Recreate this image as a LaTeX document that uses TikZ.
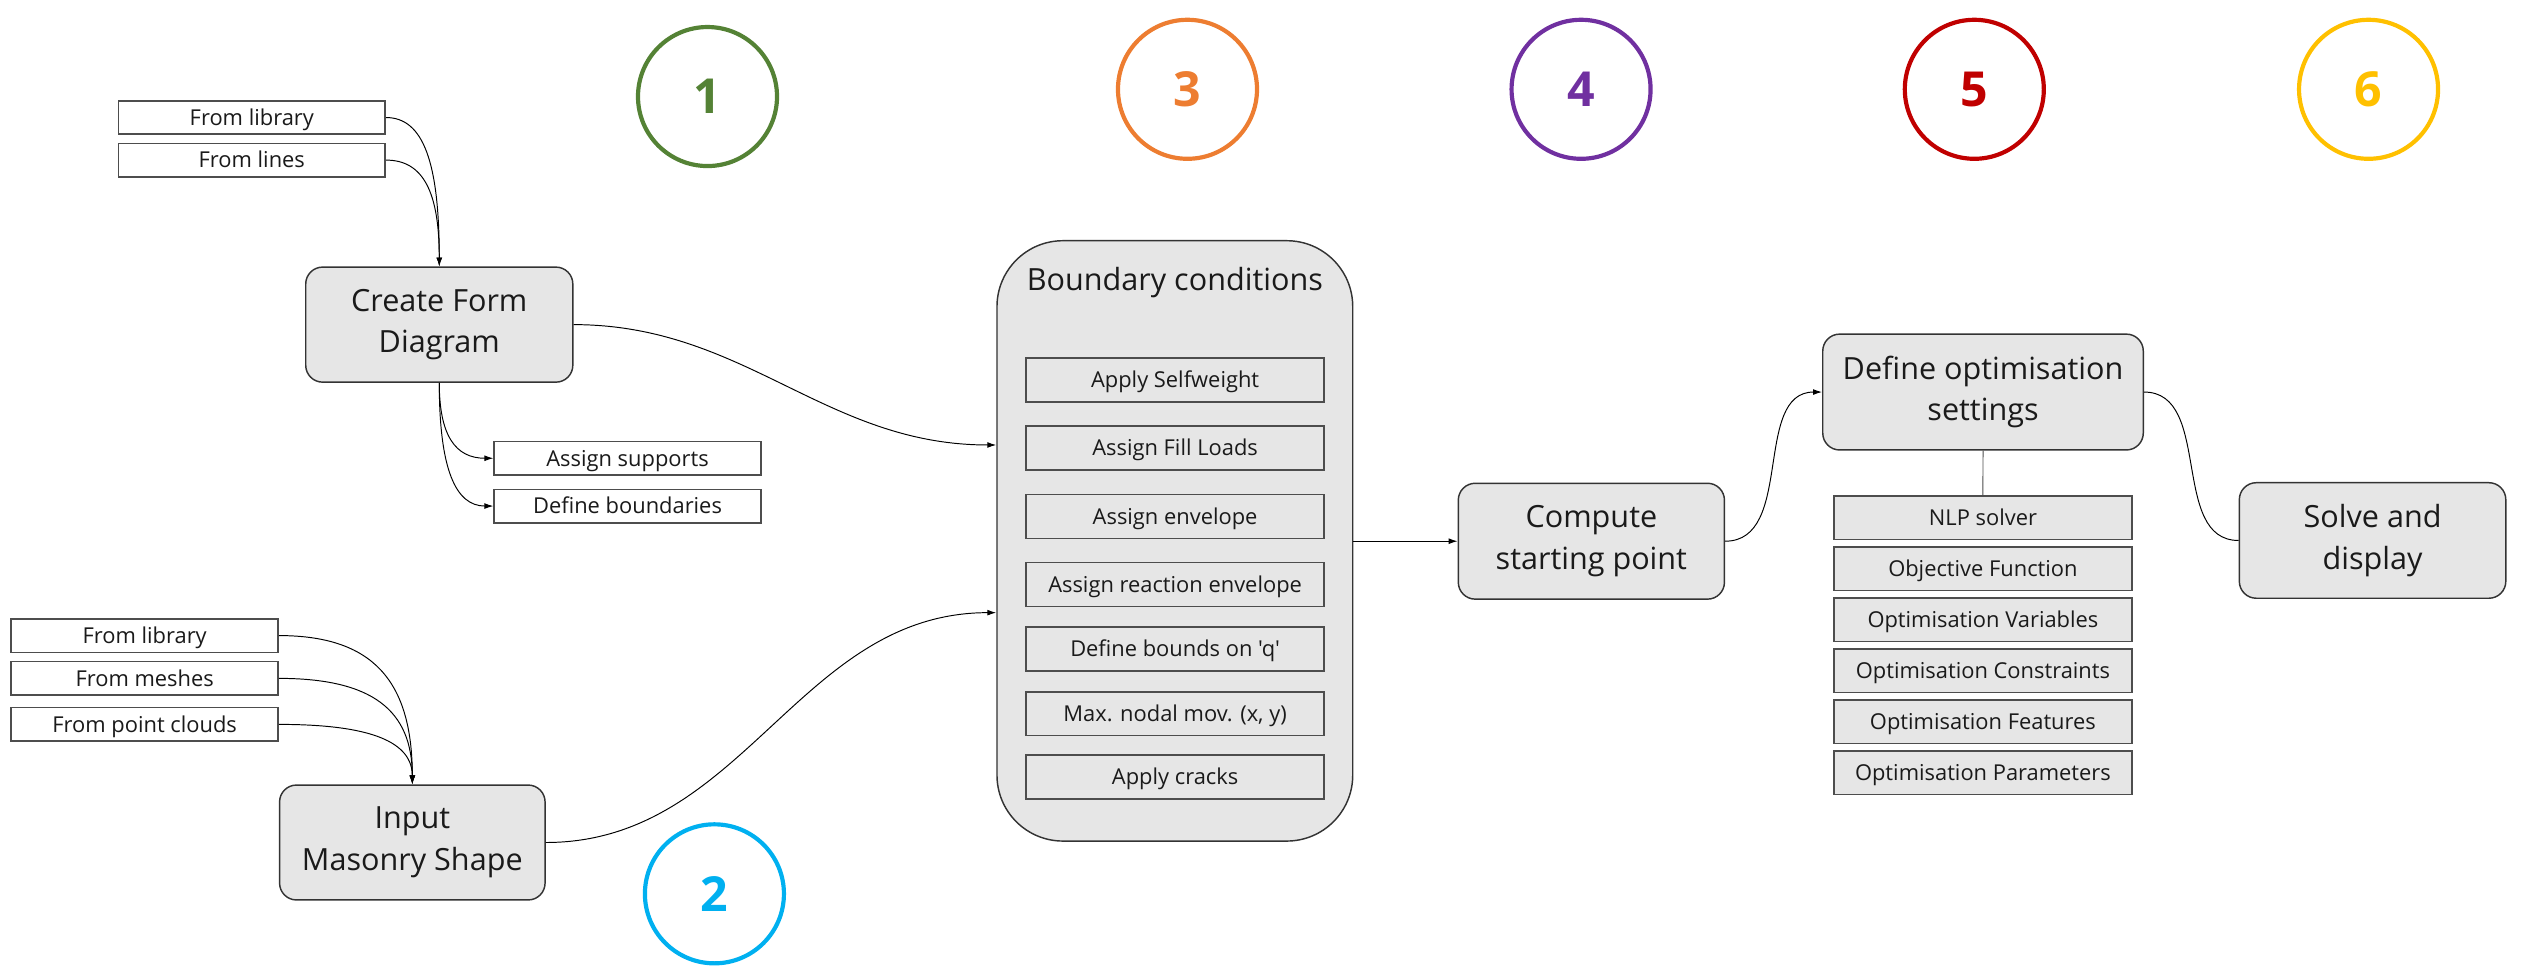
\documentclass[tikz,border=0pt]{standalone}
\usepackage{fontspec}
\setmainfont{Open Sans}
\newfontfamily\osplain{Open Sans}
\usetikzlibrary{arrows.meta,calc}
\definecolor{boxfill}{HTML}{E6E6E6}
\definecolor{boxline}{HTML}{333333}
\definecolor{smline}{HTML}{4D4D4D}
\definecolor{txt}{HTML}{1A1A1A}
\definecolor{cgreen}{HTML}{548235}
\definecolor{corange}{HTML}{ED7D31}
\definecolor{cpurple}{HTML}{7030A0}
\definecolor{cred}{HTML}{C00000}
\definecolor{cyellow}{HTML}{FFC000}
\definecolor{cblue}{HTML}{00B0F0}
\begin{document}
\begin{tikzpicture}[x=1pt,y=-1pt,
  mainbox/.style={draw=boxline, line width=0.9pt, fill=boxfill, rounded corners=10.5pt,
    inner sep=0pt, align=center, text=txt, font=\fontsize{19}{26}\selectfont},
  bigtext/.style={text=txt, font=\fontsize{19}{26}\selectfont, inner sep=0pt},
  smallbox/.style={draw=smline, line width=1pt, fill=white, minimum width=165.8pt,
    minimum height=20.8pt, inner sep=0pt, font=\fontsize{13.6}{16}\selectfont, text=txt,
    text height=9.7pt, text depth=0pt},
  innerbox/.style={smallbox, fill=boxfill, minimum width=185.2pt, minimum height=27.3pt},
  conn/.style={draw=black, line width=0.6pt},
  arr/.style={conn, -{Latex[length=5.5pt,width=3.6pt]}},
  numc/.style={circle, line width=2.6pt, minimum size=86.4pt, inner sep=0pt,
    font=\bfseries\fontsize{30}{36}\selectfont}
]
\useasboundingbox (0,0) rectangle (1568,606.6);

% step numbers
\node[numc, draw=cgreen, text=cgreen] (n1) at (439.7,60) {1};
\node[numc, draw=cblue, text=cblue] (n2) at (444,555.5) {2};
\node[numc, draw=corange, text=corange] (n3) at (738,55.5) {3};
\node[numc, draw=cpurple, text=cpurple] (n4) at (982.6,55.5) {4};
\node[numc, draw=cred, text=cred] (n5) at (1227,55.5) {5};
\node[numc, draw=cyellow, text=cyellow] (n6) at (1472,55.5) {6};

% form diagram inputs
\node[smallbox] (lib1) at (156.5,73.05) {From library};
\node[smallbox] (lines1) at (156.5,99.5) {From lines};
\node[mainbox, minimum width=166pt, minimum height=71.5pt] (cfd) at (273,201.75) {Create Form\\Diagram};
\node[smallbox] (sup) at (390,284.8) {Assign supports};
\node[smallbox] (bnd) at (390,314.5) {Define boundaries};

% masonry shape inputs
\node[smallbox] (lib2) at (89.9,395) {From library};
\node[smallbox] (mesh) at (89.9,421.6) {From meshes};
\node[smallbox] (pc) at (89.9,450.2) {From point clouds};
\node[mainbox, minimum width=165pt, minimum height=71.4pt] (ims) at (256.25,523.6) {Input\\Masonry Shape};

% boundary conditions
\node[mainbox, rounded corners=41pt, minimum width=221.1pt, minimum height=373.1pt] (bc) at (730.15,336.15) {};
\node[bigtext, anchor=base] (bct) at (730.15,180.3) {Boundary conditions};
\node[innerbox] (b1) at (730.3,236) {Apply Selfweight};
\node[innerbox] (b2) at (730.3,278.45) {Assign Fill Loads};
\node[innerbox] (b3) at (730.3,320.9) {Assign envelope};
\node[innerbox] (b4) at (730.3,363.25) {Assign reaction envelope};
\node[innerbox] (b5) at (730.3,403.25) {Define bounds on {\osplain 'q'}};
\node[innerbox] (b6) at (730.3,443.55) {Max. nodal mov. (x, y)};
\node[innerbox] (b7) at (730.3,482.9) {Apply cracks};

% starting point
\node[mainbox, minimum width=165.4pt, minimum height=72pt] (csp) at (989,336.35) {Compute\\starting point};

% optimisation
\node[mainbox, minimum width=199.2pt, minimum height=72pt] (dos) at (1232.4,243.65) {Define optimisation\\settings};
\node[innerbox, minimum width=185.1pt, minimum height=27pt] (o1) at (1232.35,321.8) {NLP solver};
\node[innerbox, minimum width=185.1pt, minimum height=27pt] (o2) at (1232.35,353.5) {Objective Function};
\node[innerbox, minimum width=185.1pt, minimum height=27pt] (o3) at (1232.35,385.2) {Optimisation Variables};
\node[innerbox, minimum width=185.1pt, minimum height=27pt] (o4) at (1232.35,416.9) {Optimisation Constraints};
\node[innerbox, minimum width=185.1pt, minimum height=27pt] (o5) at (1232.35,448.6) {Optimisation Features};
\node[innerbox, minimum width=185.1pt, minimum height=27pt] (o6) at (1232.35,480.3) {Optimisation Parameters};

% solve
\node[mainbox, minimum width=165.6pt, minimum height=71.8pt] (sd) at (1474.5,335.9) {Solve and\\display};

% connectors
\coordinate (bcin1) at ($(bc.north west)+(0,127.4)$);
\coordinate (bcin2) at ($(bc.north west)+(0,231.6)$);

\draw[arr] (lib1.east) .. controls ($(lib1.east)!0.7!(lib1.east -| cfd.north)$) and ($(cfd.north)!0.7!(lib1.east -| cfd.north)$) .. (cfd.north);
\draw[arr] (lines1.east) .. controls ($(lines1.east)!0.7!(lines1.east -| cfd.north)$) and ($(cfd.north)!0.7!(lines1.east -| cfd.north)$) .. (cfd.north);
\draw[arr] (cfd.south) .. controls ($(cfd.south)!0.7!(cfd.south |- sup.west)$) and ($(sup.west)!0.7!(cfd.south |- sup.west)$) .. (sup.west);
\draw[arr] (cfd.south) .. controls ($(cfd.south)!0.7!(cfd.south |- bnd.west)$) and ($(bnd.west)!0.7!(cfd.south |- bnd.west)$) .. (bnd.west);

\draw[arr] (lib2.east) .. controls ($(lib2.east)!0.7!(lib2.east -| ims.north)$) and ($(ims.north)!0.7!(lib2.east -| ims.north)$) .. (ims.north);
\draw[arr] (mesh.east) .. controls ($(mesh.east)!0.7!(mesh.east -| ims.north)$) and ($(ims.north)!0.7!(mesh.east -| ims.north)$) .. (ims.north);
\draw[arr] (pc.east) .. controls ($(pc.east)!0.7!(pc.east -| ims.north)$) and ($(ims.north)!0.7!(pc.east -| ims.north)$) .. (ims.north);

\draw[arr] (cfd.east) to[out=0,in=180] (bcin1);
\draw[arr] (ims.east) to[out=0,in=180] (bcin2);
\draw[arr] (bc.east |- csp.west) -- (csp.west);
\draw[arr] (csp.east) to[out=0,in=180] (dos.west);
\draw[conn, draw=black!70] (dos.south) -- (o1.north);
\draw[conn] (dos.east) to[out=0,in=180] (sd.west);
\end{tikzpicture}
\end{document}
